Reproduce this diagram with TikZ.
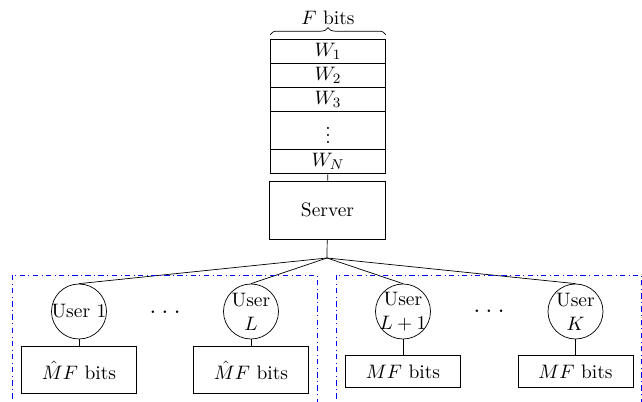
\documentclass[tikz,border=0pt]{standalone}
\usetikzlibrary{decorations.pathreplacing}
\newlength\px
\setlength\px{0.5625pt}
\begin{document}
\begin{tikzpicture}[x=0.5625pt, y=-0.5625pt, font=\fontsize{10.95}{13.6}\selectfont,
  row/.style={draw, rectangle, minimum width=115\px, minimum height=24\px, inner sep=0pt},
  user/.style={draw, circle, minimum size=55\px, inner sep=-3pt, align=center},
  bits/.style={draw, rectangle, minimum width=115\px, inner sep=0pt},
  group/.style={draw=blue, dash dot}]
\useasboundingbox (0,0) rectangle (642,402);
% library of files
\node[row] (w1) at (328,51){$W_1$};
\node[row] (w2) at (328,75){$W_2$};
\node[row] (w3) at (328,99){$W_3$};
\node[row, minimum height=38\px] (wdots) at (328,130){$\vdots$};
\node[row] (wN) at (328,161){$W_N$};
\draw[decorate, decoration={brace, amplitude=7\px}] ([yshift=4\px]w1.north west) -- ([yshift=4\px]w1.north east) node[midway, above=10\px, inner sep=0pt] (fbits){$F$ bits};
% server
\node[draw, rectangle, minimum width=116\px, minimum height=58\px] (server) at (327.5,210){Server};
\coordinate (hub) at (327,258);
\draw[](wN) -- (server);
\draw[](server) -- (hub);
% users
\node[user] (u1) at (79,311.5){User 1};
\node[user] (uL) at (251,311.5){User\\$L$};
\node[user] (uL1) at (403,311.5){User\\$L+1$};
\node[user] (uK) at (575.5,311.5){User\\$K$};
\node[font=\LARGE] (dotsA) at (165,312){.\kern2.5pt.\kern2.5pt.};
\node[font=\LARGE] (dotsB) at (489,311){.\kern2.5pt.\kern2.5pt.};
\draw[](hub) -- (u1.north);
\draw[](hub) -- (uL.north);
\draw[](hub) -- (uL1.north);
\draw[](hub) -- (uK.north);
% caches
\node[bits, minimum height=47\px] (b1) at (79,370){$\hat{M}F$ bits};
\node[bits, minimum height=47\px] (bL) at (251,370){$\hat{M}F$ bits};
\node[bits, minimum height=32\px] (bL1) at (403,371.5){$MF$ bits};
\node[bits, minimum height=32\px] (bK) at (575.5,371.5){$MF$ bits};
\draw[](u1) -- (b1);
\draw[](uL) -- (bL);
\draw[](uL1) -- (bL1);
\draw[](uK) -- (bK);
% groups
\draw[group] (12,275) rectangle (317,404);
\draw[group] (336,275) rectangle (641,404);
\end{tikzpicture}
\end{document}
